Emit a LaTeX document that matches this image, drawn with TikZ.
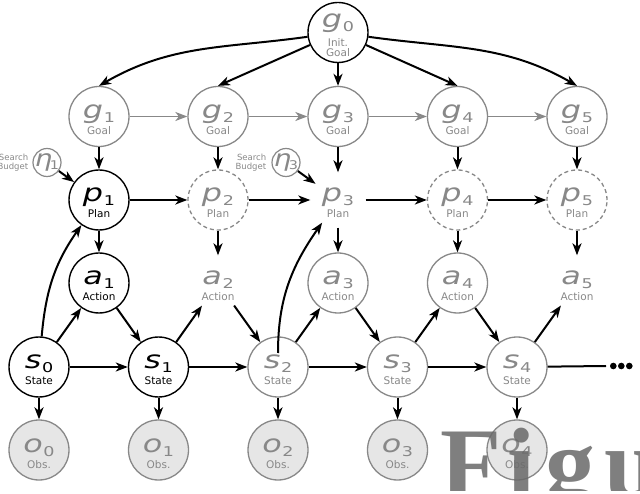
\documentclass[tikz,border=0pt]{standalone}
\usepackage{fontspec}
\usepackage{graphicx}
\setmainfont{DejaVu Sans}
\newfontfamily\wmfont{Liberation Serif}
\usetikzlibrary{arrows.meta}
\definecolor{lg}{RGB}{136,136,136}
\definecolor{obsfill}{RGB}{230,230,230}
\definecolor{wmcol}{RGB}{105,105,105}
\newcommand\msym[2]{\scalebox{1.3}[1]{{\fontsize{24.5}{24}\selectfont\itshape #1}\kern0.5pt{\fontsize{13.5}{13.5}\selectfont\raisebox{-4pt}{#2}}}}
\newcommand\sublabfont{\fontsize{10.5}{12}\selectfont}
\newcommand\vnode[8]{%
  \node[#2] (#1) at (#3,#4) {};
  \node[anchor=base, inner sep=0pt, text=#8] (#1sym) at ([yshift=-2pt]#1.center) {\msym{#5}{#6}};
  \node[anchor=base, inner sep=0pt, text=#8, font=\sublabfont] (#1lab) at ([yshift=-18pt]#1.center) {#7};
}
\tikzset{
  vn/.style={circle, minimum size=60pt, inner sep=0pt, line width=1.4pt},
  blk/.style={vn, draw=black, fill=white},
  gry/.style={vn, draw=lg, fill=white, line width=1.3pt},
  dsh/.style={vn, draw=lg, dash pattern=on 4pt off 3pt, line width=1.3pt},
  hid/.style={vn, minimum size=54pt},
  obs/.style={vn, draw=lg, fill=obsfill, line width=1.3pt},
  budnode/.style={circle, minimum size=28pt, inner sep=0pt, draw=lg, line width=1.2pt},
  budtext/.style={align=right, text=lg, font=\fontsize{8.5}{9}\selectfont, inner sep=0pt, anchor=east},
  arr/.style={line width=2pt, draw=black, -{Stealth[length=12pt,width=9pt,inset=3.5pt,fill=black!40]}},
  garr/.style={line width=1.8pt, draw=lg, -{Stealth[length=12pt,width=9pt,inset=3.5pt,fill=lg!50]}},
  wm/.style={text=wmcol, opacity=0.85, inner sep=0pt, font=\wmfont\bfseries\fontsize{100}{100}\selectfont}
}
\begin{document}
\begin{tikzpicture}[x=1pt,y=1pt]
\useasboundingbox (0,0) rectangle (640,493);
% initial goal
\node[blk] (g0) at (338,460.5) {};
\node[anchor=base, inner sep=0pt, text=lg] (g0sym) at ([yshift=4.5pt]g0.center) {\msym{g}{0}};
\node[anchor=base, inner sep=0pt, text=lg, font=\sublabfont] (g0lab) at ([yshift=-14.5pt]g0.center) {Init.};
\node[anchor=base, inner sep=0pt, text=lg, font=\sublabfont] (g0lab2) at ([yshift=-24.5pt]g0.center) {Goal};
% goals
\vnode{g1}{gry}{99}{376.5}{g}{1}{Goal}{lg}
\vnode{g2}{gry}{218}{376.5}{g}{2}{Goal}{lg}
\vnode{g3}{gry}{338}{376.5}{g}{3}{Goal}{lg}
\vnode{g4}{gry}{457.5}{376.5}{g}{4}{Goal}{lg}
\vnode{g5}{gry}{577}{376.5}{g}{5}{Goal}{lg}
% plans
\vnode{p1}{blk}{99}{293}{p}{1}{Plan}{black}
\vnode{p2}{dsh}{218}{293}{p}{2}{Plan}{lg}
\vnode{p3}{hid}{338}{293}{p}{3}{Plan}{lg}
\vnode{p4}{dsh}{457.5}{293}{p}{4}{Plan}{lg}
\vnode{p5}{dsh}{577}{293}{p}{5}{Plan}{lg}
% actions
\vnode{a1}{blk}{99}{210}{a}{1}{Action}{black}
\vnode{a2}{hid}{218}{210}{a}{2}{Action}{lg}
\vnode{a3}{gry}{338}{210}{a}{3}{Action}{lg}
\vnode{a4}{gry}{457.5}{210}{a}{4}{Action}{lg}
\vnode{a5}{hid}{577}{210}{a}{5}{Action}{lg}
% states
\vnode{s0}{blk}{39}{126}{s}{0}{State}{black}
\vnode{s1}{blk}{158.5}{126}{s}{1}{State}{black}
\vnode{s2}{gry}{278}{126}{s}{2}{State}{lg}
\vnode{s3}{gry}{397.5}{126}{s}{3}{State}{lg}
\vnode{s4}{gry}{517}{126}{s}{4}{State}{lg}
% observations
\vnode{o0}{obs}{39}{43}{o}{0}{Obs.}{lg}
\vnode{o1}{obs}{158.5}{43}{o}{1}{Obs.}{lg}
\vnode{o2}{obs}{278}{43}{o}{2}{Obs.}{lg}
\vnode{o3}{obs}{397.5}{43}{o}{3}{Obs.}{lg}
\vnode{o4}{obs}{517}{43}{o}{4}{Obs.}{lg}
% search budgets
\node[budnode] (n1) at (47,330.5) {};
\node[anchor=base, inner sep=0pt, text=lg] (n1sym) at ([yshift=-4pt]n1.center) {\scalebox{1.2}[1]{{\fontsize{23}{23}\selectfont\itshape η}\kern-2pt{\fontsize{12}{12}\selectfont\raisebox{-3pt}{1}}}};
\node[budtext] (b1) at ([xshift=-4pt]n1.west) {Search\\Budget};
\node[budnode] (n3) at (286,330.5) {};
\node[anchor=base, inner sep=0pt, text=lg] (n3sym) at ([yshift=-4pt]n3.center) {\scalebox{1.2}[1]{{\fontsize{23}{23}\selectfont\itshape η}\kern-2pt{\fontsize{12}{12}\selectfont\raisebox{-3pt}{3}}}};
\node[budtext] (b3) at ([xshift=-5pt]n3.west) {Search\\Budget};
% edges from g0
\draw[arr] (g0) to[out=188,in=30] (g1.north);
\draw[arr] (g0) -- (g2.north);
\draw[arr] (g0) -- (g3);
\draw[arr] (g0) -- (g4.north);
\draw[arr] (g0) to[out=-8,in=150] (g5.north);
% goal chain
\draw[garr] (g1) -- (g2);
\draw[garr] (g2) -- (g3);
\draw[garr] (g3) -- (g4);
\draw[garr] (g4) -- (g5);
% goal -> plan -> action
\foreach \i in {1,...,5}{
  \draw[arr] (g\i) -- (p\i);
  \draw[arr] (p\i) -- (a\i);
}
% plan chain
\draw[arr] (p1) -- (p2);
\draw[arr] (p2) -- (p3);
\draw[arr] (p3) -- (p4);
\draw[arr] (p4) -- (p5);
% budgets
\draw[arr] (n1) -- (p1);
\draw[arr] (n3) -- (p3);
% state -> plan
\draw[arr] (s0) to[out=85,in=235] (p1);
\draw[arr] ([yshift=14pt]s2.center) to[out=90,in=235] (p3);
% state / action zigzag
\draw[arr] (s0) -- (a1);
\draw[arr] (a1) -- (s1);
\draw[arr] (s1) -- (a2);
\draw[arr] (a2) -- (s2);
\draw[arr] (s2) -- (a3);
\draw[arr] (a3) -- (s3);
\draw[arr] (s3) -- (a4);
\draw[arr] (a4) -- (s4);
\draw[arr] (s4) -- (a5);
% state chain
\draw[arr] (s0) -- (s1);
\draw[arr] (s1) -- (s2);
\draw[arr] (s2) -- (s3);
\draw[arr] (s3) -- (s4);
\coordinate (dotend) at (606,127);
\draw[line width=2pt] (s4) -- (dotend);
\fill (613.3,127) circle (3.3) (621.3,127) circle (3.3) (629.3,127) circle (3.3);
% observations
\foreach \i in {0,...,4}{
  \draw[arr] (s\i) -- (o\i);
}
% watermark
\begin{scope}
\clip (0,3) rectangle (640,493);
\node[wm, anchor=base west] (wmark) at (440,-4) {F\kern6pt i\kern10pt g\kern9pt u};
\end{scope}
\end{tikzpicture}
\end{document}
